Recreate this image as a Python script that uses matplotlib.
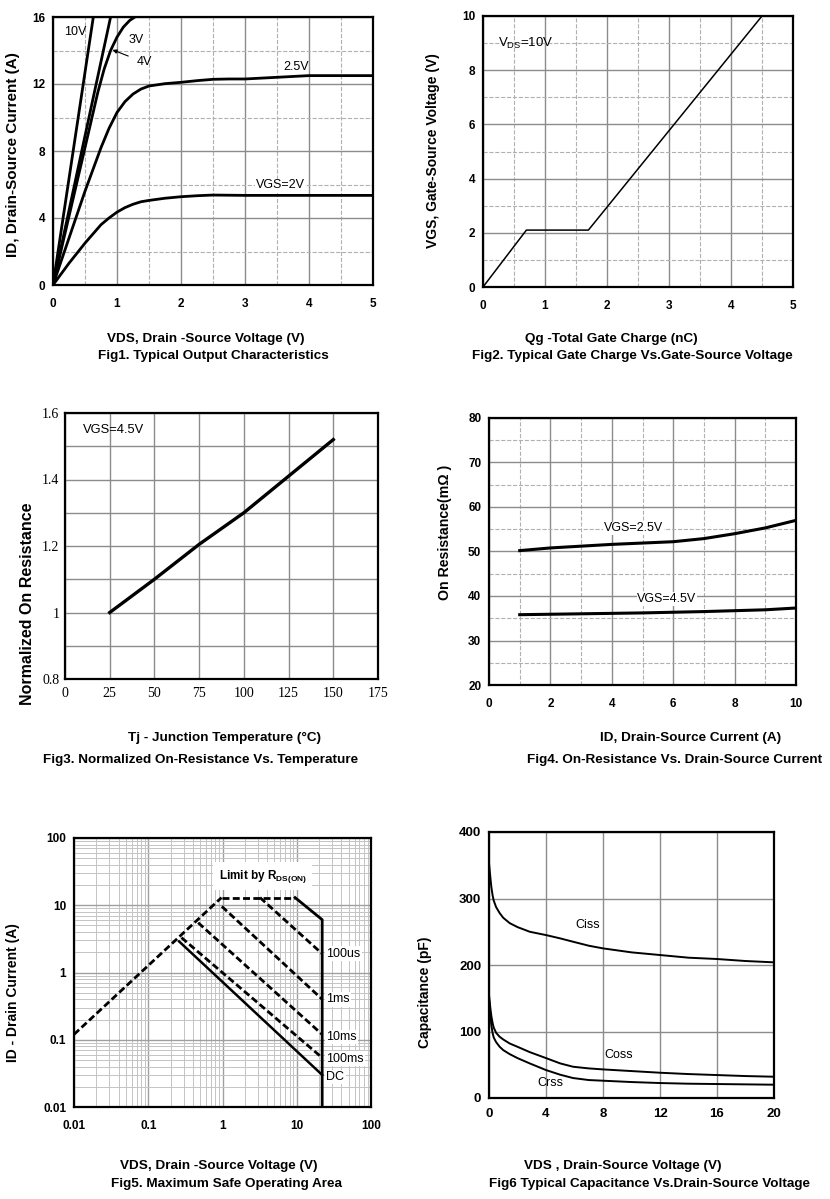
import numpy as np
import matplotlib
matplotlib.use("Agg")
import matplotlib.pyplot as plt
from matplotlib.ticker import MultipleLocator, FixedLocator, FuncFormatter, LogLocator, NullFormatter

plt.rcParams['font.family'] = ['Liberation Sans', 'DejaVu Sans']

W, H = 830, 1199

# Fig1 - output characteristics
vds_10v = [0, 0.63]
id_10v = [0, 16]
vds_4v = [0, 0.5, 0.9]
id_4v = [0, 8.9, 16]
vds_3v = [0, 0.25, 0.5, 0.7, 0.8, 0.9, 1.0, 1.1, 1.2, 1.28]
id_3v = [0, 4.1, 8.2, 11.5, 12.9, 14.0, 14.8, 15.4, 15.8, 16]
vds_25v = [0, 0.25, 0.5, 0.75, 0.875, 1.0, 1.125, 1.25, 1.375, 1.5, 1.75, 2.0, 2.25, 2.5, 2.75, 3.0, 3.5, 4.0, 4.5, 5.0]
id_25v = [0, 2.8, 5.6, 8.2, 9.35, 10.3, 10.95, 11.4, 11.7, 11.88, 12.02, 12.1, 12.2, 12.28, 12.3, 12.3, 12.4, 12.5, 12.5, 12.5]
vds_2v = [0, 0.125, 0.25, 0.375, 0.5, 0.625, 0.75, 0.875, 1.0, 1.125, 1.25, 1.375, 1.5, 1.75, 2.0, 2.25, 2.5, 3.0, 4.0, 5.0]
id_2v = [0, 0.65, 1.3, 1.9, 2.5, 3.05, 3.6, 4.0, 4.35, 4.62, 4.82, 4.97, 5.05, 5.18, 5.27, 5.33, 5.37, 5.35, 5.35, 5.35]

# Fig2 - gate charge
qg = [0, 0.7, 1.7, 4.5]
vgs = [0, 2.1, 2.1, 10]

# Fig3 - normalized on resistance vs temperature
tj = [25, 50, 75, 100, 125, 150]
rn = [1.0, 1.1, 1.205, 1.3, 1.41, 1.52]

# Fig4 - on resistance vs current
id4 = [1, 2, 3, 4, 5, 6, 7, 8, 9, 10]
ron_25 = [50.2, 50.8, 51.2, 51.6, 51.9, 52.2, 52.9, 54.0, 55.3, 57.0]
ron_45 = [35.8, 35.9, 36.0, 36.1, 36.2, 36.35, 36.5, 36.7, 36.9, 37.3]

# Fig5 - safe operating area
rds_v = [0.01, 0.97]
rds_i = [0.12, 13]
flat_v = [0.97, 9.5]
flat_i = [13, 13]
lim_v = [9.5, 22, 22]
lim_i = [13, 6.1, 0.01]
us100_v = [3.2, 22]
us100_i = [13, 1.9]
ms1_v = [0.98, 22]
ms1_i = [9.6, 0.4]
ms10_v = [0.47, 22]
ms10_i = [5.5, 0.12]
ms100_v = [0.28, 22]
ms100_i = [3.3, 0.054]
dc_v = [0.26, 22]
dc_i = [2.9, 0.03]
soa_labels = ["100us", "1ms", "10ms", "100ms", "DC"]
soa_label_i = [1.9, 0.4, 0.11, 0.052, 0.028]

# Fig6 - capacitance
vds6 = [0, 0.08, 0.16, 0.25, 0.33, 0.5, 0.75, 1.0, 1.45, 2, 2.86, 4, 5, 5.9, 7, 8, 10, 12, 14, 16, 18, 20]
ciss = [353, 335, 318, 305, 297, 287, 278, 271, 263, 257, 250, 245, 240, 235, 229, 225, 219, 215, 211, 209, 206, 204]
coss = [155, 138, 124, 113, 106, 98, 92, 88, 82, 77, 69, 60, 52, 47, 44.5, 43, 40.5, 38, 36, 34.5, 33, 32]
crss = [150, 128, 110, 98, 91, 84, 77, 72, 66, 60, 52, 42, 35, 30, 27, 26, 24, 22.5, 21.5, 21, 20.5, 20]

fig = plt.figure(figsize=(W / 100, H / 100), dpi=100)


def add_ax(l, t, r, b):
    return fig.add_axes([l / W, 1 - b / H, (r - l) / W, (b - t) / H])


def style(ax, fs=8.5, weight='bold', family=None, xpad=9.5, ypad=5.5):
    for s in ax.spines.values():
        s.set_color('black')
        s.set_linewidth(1.6)
        s.set_zorder(5)
    ax.tick_params(which='both', length=0, labelsize=fs)
    ax.tick_params(axis='x', pad=xpad)
    ax.tick_params(axis='y', pad=ypad)
    for lab in ax.get_xticklabels() + ax.get_yticklabels():
        lab.set_fontweight(weight)
        if family:
            lab.set_family(family)
    ax.set_axisbelow(True)


def grids(ax, major='-', minor='--'):
    ax.grid(which='major', color='#8c8c8c', lw=1.0, ls=major)
    ax.grid(which='minor', color='#b0b0b0', lw=0.8, ls=minor)


def labels(xc1, y1, t1, xc2, y2, t2):
    fig.text(xc1 / W, 1 - y1 / H, t1, ha='center', va='center', fontsize=9.7, fontweight='bold')
    fig.text(xc2 / W, 1 - y2 / H, t2, ha='center', va='center', fontsize=9.7, fontweight='bold')


def ylab(x, yc, t, fs=10.5):
    fig.text(x / W, 1 - yc / H, t, rotation=90, ha='center', va='center', fontsize=fs, fontweight='bold')


ann = dict(fontsize=9, ha='center', va='center')

# ---- Fig1
ax1 = add_ax(53, 17, 373, 285)
ax1.set_xlim(0, 5)
ax1.set_ylim(0, 16)
ax1.xaxis.set_major_locator(MultipleLocator(1))
ax1.xaxis.set_minor_locator(MultipleLocator(0.5))
ax1.yaxis.set_major_locator(MultipleLocator(4))
ax1.yaxis.set_minor_locator(MultipleLocator(2))
grids(ax1)
style(ax1)
for xs, ys in [(vds_10v, id_10v), (vds_4v, id_4v), (vds_3v, id_3v), (vds_25v, id_25v), (vds_2v, id_2v)]:
    ax1.plot(xs, ys, color='black', lw=2.0, solid_joinstyle='round')
ax1.text(0.35, 15.1, "10V", **ann)
ax1.text(1.3, 14.6, "3V", **ann)
ax1.annotate("4V", xy=(0.89, 14.1), xytext=(1.42, 13.3), fontsize=9, ha='center', va='center',
             arrowprops=dict(arrowstyle='-|>', color='black', lw=0.8, mutation_scale=6, shrinkA=4))
ax1.text(3.8, 13.0, "2.5V", **ann)
ax1.text(3.55, 5.95, "VGS=2V", bbox=dict(facecolor='white', edgecolor='none', pad=0.5), **ann)
ylab(13, 155, "ID, Drain-Source Current (A)", fs=11)
labels(206, 339, "VDS, Drain -Source Voltage (V)", 213, 356, "Fig1. Typical Output Characteristics")

# ---- Fig2
ax2 = add_ax(483, 16, 793, 287)
ax2.set_xlim(0, 5)
ax2.set_ylim(0, 10)
ax2.xaxis.set_major_locator(MultipleLocator(1))
ax2.xaxis.set_minor_locator(MultipleLocator(0.5))
ax2.yaxis.set_major_locator(MultipleLocator(2))
ax2.yaxis.set_minor_locator(MultipleLocator(1))
grids(ax2)
style(ax2)
ax2.plot(qg, vgs, color='black', lw=1.1)
ax2.text(0.24, 9.0, r"V$_{\mathregular{DS}}$=10V", fontsize=9.5, ha='left', va='center')
ylab(433, 151, "VGS, Gate-Source Voltage (V)", fs=10)
labels(611, 339, "Qg -Total Gate Charge (nC)", 632, 356, "Fig2. Typical Gate Charge Vs.Gate-Source Voltage")

# ---- Fig3
ax3 = add_ax(65, 413, 378, 679)
ax3.set_xlim(0, 175)
ax3.set_ylim(0.8, 1.6)
ax3.xaxis.set_major_locator(MultipleLocator(25))
ax3.yaxis.set_major_locator(FixedLocator([0.8, 1.0, 1.2, 1.4, 1.6]))
ax3.yaxis.set_minor_locator(FixedLocator([0.9, 1.1, 1.3, 1.5]))
ax3.yaxis.set_major_formatter(FuncFormatter(lambda v, p: "1" if abs(v - 1) < 1e-9 else f"{v:.1f}"))
ax3.grid(which='both', color='#8c8c8c', lw=1.0, ls='-')
style(ax3, fs=10, weight='normal', family=['Liberation Serif', 'DejaVu Serif'], xpad=6, ypad=4)
ax3.plot(tj, rn, color='black', lw=2.4)
ax3.text(10, 1.55, "VGS=4.5V", fontsize=9.3, ha='left', va='center')
ylab(28, 604, "Normalized On Resistance", fs=11.5)
labels(224, 738, "Tj - Junction Temperature (°C)", 201, 760, "Fig3. Normalized On-Resistance Vs. Temperature")

# ---- Fig4
ax4 = add_ax(489, 418, 796, 685)
ax4.set_xlim(0, 10)
ax4.set_ylim(20, 80)
ax4.xaxis.set_major_locator(MultipleLocator(2))
ax4.xaxis.set_minor_locator(MultipleLocator(1))
ax4.yaxis.set_major_locator(MultipleLocator(10))
ax4.yaxis.set_minor_locator(MultipleLocator(5))
grids(ax4)
style(ax4)
ax4.plot(id4, ron_25, color='black', lw=2.2)
ax4.plot(id4, ron_45, color='black', lw=2.2)
ax4.text(4.7, 55.2, "VGS=2.5V", bbox=dict(facecolor='white', edgecolor='none', pad=0.5), **ann)
ax4.text(5.8, 39.3, "VGS=4.5V", bbox=dict(facecolor='white', edgecolor='none', pad=0.5), **ann)
ylab(445, 532, "On Resistance(mΩ )", fs=10.2)
labels(691, 738, "ID, Drain-Source Current (A)", 675, 760, "Fig4. On-Resistance Vs. Drain-Source Current")

# ---- Fig5
ax5 = add_ax(74, 838, 371, 1107)
ax5.set_xscale('log')
ax5.set_yscale('log')
ax5.set_xlim(0.01, 100)
ax5.set_ylim(0.01, 100)
fmt = FuncFormatter(lambda v, p: f"{v:g}")
for a in (ax5.xaxis, ax5.yaxis):
    a.set_major_locator(LogLocator(base=10, numticks=10))
    a.set_minor_locator(LogLocator(base=10, subs=np.arange(2, 10), numticks=20))
    a.set_major_formatter(fmt)
    a.set_minor_formatter(NullFormatter())
ax5.grid(which='major', color='#a0a0a0', lw=1.0)
ax5.grid(which='minor', color='#c4c4c4', lw=0.7)
style(ax5, fs=8.5)
dash = (0, (2.5, 1.2))
ax5.plot(rds_v, rds_i, color='black', lw=2.0, ls=dash)
ax5.plot(flat_v, flat_i, color='black', lw=2.0, ls=dash)
ax5.plot(lim_v, lim_i, color='black', lw=2.0)
for xs, ys in [(us100_v, us100_i), (ms1_v, ms1_i), (ms10_v, ms10_i), (ms100_v, ms100_i)]:
    ax5.plot(xs, ys, color='black', lw=2.0, ls=dash)
ax5.plot(dc_v, dc_i, color='black', lw=1.8)
for lab, yi in zip(soa_labels, soa_label_i):
    ax5.text(25, yi, lab, fontsize=9, ha='left', va='center',
             bbox=dict(facecolor='white', edgecolor='none', pad=1))
ax5.text(3.5, 27, r"Limit by R$_{\mathregular{DS(ON)}}$", fontsize=8.5, fontweight='bold', ha='center', va='center',
         bbox=dict(facecolor='white', edgecolor='none', pad=4))
ylab(13, 993, "ID - Drain Current (A)", fs=10)
labels(219, 1166, "VDS, Drain -Source Voltage (V)", 226, 1184, "Fig5. Maximum Safe Operating Area")

# ---- Fig6
ax6 = add_ax(489, 832, 774, 1098)
ax6.set_xlim(0, 20)
ax6.set_ylim(0, 400)
ax6.xaxis.set_major_locator(MultipleLocator(4))
ax6.yaxis.set_major_locator(MultipleLocator(100))
ax6.grid(which='major', color='#8c8c8c', lw=1.0)
style(ax6, fs=9.5, xpad=7)
ax6.plot(vds6, ciss, color='black', lw=1.4)
ax6.plot(vds6, coss, color='black', lw=1.4)
ax6.plot(vds6, crss, color='black', lw=1.4)
ax6.text(6.95, 260, "Ciss", **ann)
ax6.text(9.1, 64, "Coss", **ann)
ax6.text(4.3, 23, "Crss", **ann)
ylab(425, 992, "Capacitance (pF)", fs=10)
labels(623, 1166, "VDS , Drain-Source Voltage (V)", 649, 1184, "Fig6 Typical Capacitance Vs.Drain-Source Voltage")

fig.savefig("out.png", dpi=100)
